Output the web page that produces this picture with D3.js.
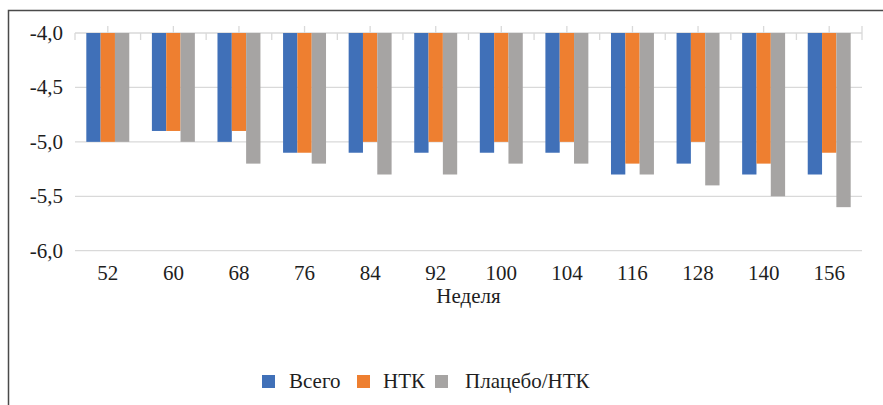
<!DOCTYPE html>
<html>
<head>
<meta charset="utf-8">
<script src="https://cdn.jsdelivr.net/npm/d3@7"></script>
</head>
<body style="margin:0;font-family:'Liberation Serif',serif">
<svg id="chart" width="883" height="405" style="display:block;font-family:'Liberation Serif',serif"></svg>
<script>
const weeks = ['52', '60', '68', '76', '84', '92', '100', '104', '116', '128', '140', '156'];
const seriesNames = ['Всего', 'НТК', 'Плацебо/НТК'];
const seriesColors = ['#4070b8', '#ee7f30', '#a6a4a3'];
const total = [-5.0, -4.9, -5.0, -5.1, -5.1, -5.1, -5.1, -5.1, -5.3, -5.2, -5.3, -5.3];
const ntk = [-5.0, -4.9, -4.9, -5.1, -5.0, -5.0, -5.0, -5.0, -5.2, -5.0, -5.2, -5.1];
const placebo = [-5.0, -5.0, -5.2, -5.2, -5.3, -5.3, -5.2, -5.2, -5.3, -5.4, -5.5, -5.6];
const yTicks = [-4.0, -4.5, -5.0, -5.5, -6.0];
const xTitle = 'Неделя';

const values = [total, ntk, placebo];
const svg = d3.select('#chart');

function label(sel) {
  return sel.attr('font-family', 'serif').attr('font-size', 21).attr('fill', '#1e1e1e');
}

// frame (cropped on right and bottom)
svg.append('path')
  .attr('d', 'M8.5,405 L8.5,10.5 L883,10.5')
  .attr('fill', 'none')
  .attr('stroke', '#4a4a4a')
  .attr('stroke-width', 1.5);

const plot = { left: 75, right: 862, top: 33, bottom: 250.7 };

const x0 = d3.scaleBand().domain(weeks).range([plot.left, plot.right]).padding(0);
const bw = x0.bandwidth();
const groupW = bw * 0.655;
const x1 = d3.scaleBand().domain(d3.range(seriesNames.length))
  .range([(bw - groupW) / 2, (bw + groupW) / 2]).padding(0);
const y = d3.scaleLinear().domain([-6, -4]).range([plot.bottom, plot.top]);

const fmt = v => d3.format('.1f')(v).replace('.', ',').replace('−', '-');

// gridlines
svg.append('g').selectAll('line').data(yTicks).join('line')
  .attr('x1', plot.left).attr('x2', plot.right)
  .attr('y1', d => y(d)).attr('y2', d => y(d))
  .attr('stroke', '#d9d9d9').attr('stroke-width', 1.3);

// y labels
svg.append('g').selectAll('text').data(yTicks).join('text')
  .call(label)
  .attr('x', 63).attr('y', d => y(d) + 7)
  .attr('text-anchor', 'end')
  .text(fmt);

// category axis ticks at top
const tickG = svg.append('g').attr('stroke', '#d9d9d9').attr('stroke-width', 1.3);
const bounds = weeks.map(w => x0(w)).concat([plot.right]);
tickG.selectAll('line.down').data(bounds).join('line').attr('class', 'down')
  .attr('x1', d => d).attr('x2', d => d)
  .attr('y1', y(-4)).attr('y2', y(-4) + 7);
tickG.selectAll('line.up').data(weeks).join('line').attr('class', 'up')
  .attr('x1', d => x0(d) + bw / 2).attr('x2', d => x0(d) + bw / 2)
  .attr('y1', y(-4)).attr('y2', y(-4) - 7);
tickG.append('line')
  .attr('x1', plot.right).attr('x2', plot.right)
  .attr('y1', y(-4)).attr('y2', y(-4) - 7);

// bars
const groups = svg.append('g').selectAll('g').data(weeks).join('g')
  .attr('transform', d => `translate(${x0(d)},0)`);
groups.selectAll('rect')
  .data((w, i) => values.map((s, k) => ({ k, v: s[i] })))
  .join('rect')
  .attr('x', d => x1(d.k))
  .attr('width', x1.bandwidth())
  .attr('y', y(-4))
  .attr('height', d => y(d.v) - y(-4))
  .attr('fill', d => seriesColors[d.k]);

// category labels
svg.append('g').selectAll('text').data(weeks).join('text')
  .call(label)
  .attr('x', d => x0(d) + bw / 2).attr('y', 280)
  .attr('text-anchor', 'middle')
  .text(d => d);

svg.append('text')
  .call(label)
  .attr('x', (plot.left + plot.right) / 2).attr('y', 303)
  .attr('text-anchor', 'middle')
  .text(xTitle);

// legend
const legendX = [262, 357, 435];
const legendGap = [27, 26, 30];
const leg = svg.append('g').selectAll('g').data(seriesNames).join('g')
  .attr('transform', (d, i) => `translate(${legendX[i]},375)`);
leg.append('rect').attr('width', 13).attr('height', 13)
  .attr('fill', (d, i) => seriesColors[i]);
leg.append('text')
  .call(label)
  .attr('x', (d, i) => legendGap[i]).attr('y', 13)
  .text(d => d);
</script>
</body>
</html>
